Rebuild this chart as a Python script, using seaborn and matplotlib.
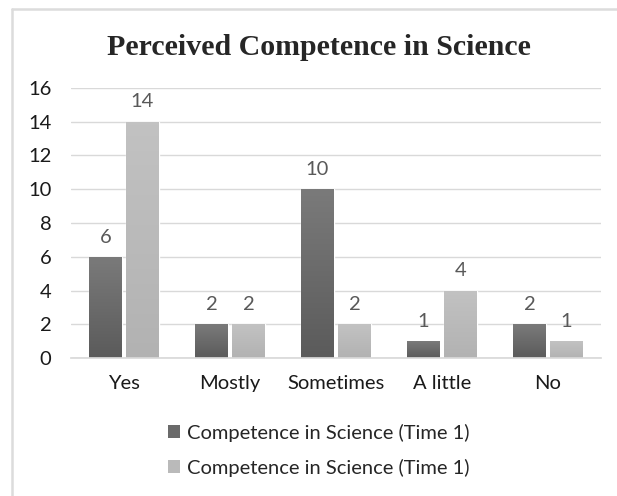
import numpy as np
import pandas as pd
import seaborn as sns
import matplotlib.pyplot as plt
from matplotlib.colors import LinearSegmentedColormap
from matplotlib.lines import Line2D
from matplotlib.patches import Patch

categories = ["Yes", "Mostly", "Sometimes", "A little", "No"]
time1_a = [6, 2, 10, 1, 2]
time1_b = [14, 2, 2, 4, 1]
series_labels = ["Competence in Science (Time 1)", "Competence in Science (Time 1)"]
colors = ["#6a6a6a", "#bababa"]
gradients = [("#5b5b5b", "#7a7a7a"), ("#b2b2b2", "#c2c2c2")]

df = pd.DataFrame({
    "category": categories * 2,
    "value": time1_a + time1_b,
    "series": ["a"] * len(categories) + ["b"] * len(categories),
})

sns.set_theme(style="white")
plt.rcParams["font.family"] = ["Lato", "DejaVu Sans"]

fig = plt.figure(figsize=(6.17, 4.96), dpi=100)
ax = fig.add_axes([0.115, 0.278, 0.859, 0.545])

sns.barplot(data=df, x="category", y="value", hue="series", order=categories,
            palette=colors, width=0.7, gap=0.12, legend=False, ax=ax,
            saturation=1)

ax.set_ylim(0, 16)
xlim = ax.get_xlim()

# soft vertical shading on each bar, like the original
ramp = np.linspace(0, 1, 64).reshape(-1, 1)
for cont, (lo, hi) in zip(ax.containers, gradients):
    cmap = LinearSegmentedColormap.from_list("g", [lo, hi])
    for bar in cont:
        x, w, h = bar.get_x(), bar.get_width(), bar.get_height()
        im = ax.imshow(ramp, extent=[x, x + w, 0, h], origin="lower", cmap=cmap,
                       aspect="auto", zorder=bar.get_zorder() + 0.1)
        im.set_clip_path(bar)
    ax.bar_label(cont, padding=8, fontsize=14.5, color="#595959")

ax.set_xlim(xlim)
ax.set_ylim(0, 16)
ax.set_yticks(range(0, 17, 2))
ax.yaxis.grid(True, color="#d9d9d9", linewidth=1)
ax.set_axisbelow(True)
ax.set_xlabel("")
ax.set_ylabel("")
for s in ["top", "right", "left"]:
    ax.spines[s].set_visible(False)
ax.spines["bottom"].set_color("#d9d9d9")
ax.tick_params(axis="both", length=0, labelsize=14.5, colors="#1a1a1a")
ax.tick_params(axis="x", pad=12)
ax.tick_params(axis="y", pad=14)

fig.text(0.517, 0.889, "Perceived Competence in Science", ha="center", va="baseline",
         fontsize=21.5, fontweight="bold", family="Liberation Serif")

handles = [Patch(facecolor=c, edgecolor="none") for c in colors]
fig.legend(handles, series_labels, loc="upper left", bbox_to_anchor=(0.272, 0.146),
           ncol=1, frameon=False, fontsize=14.5, handlelength=0.6, handleheight=0.6,
           handletextpad=0.35, labelspacing=0.85, borderaxespad=0, borderpad=0,
           labelcolor="#262626")

# frame visible only at the left and top edges
fig.lines.append(Line2D([0.019, 0.019], [0, 0.982], transform=fig.transFigure,
                        color="#dcdcdc", linewidth=1.8))
fig.lines.append(Line2D([0.019, 1.0], [0.982, 0.982], transform=fig.transFigure,
                        color="#dcdcdc", linewidth=1.8))

fig.savefig("out.png", dpi=100)
